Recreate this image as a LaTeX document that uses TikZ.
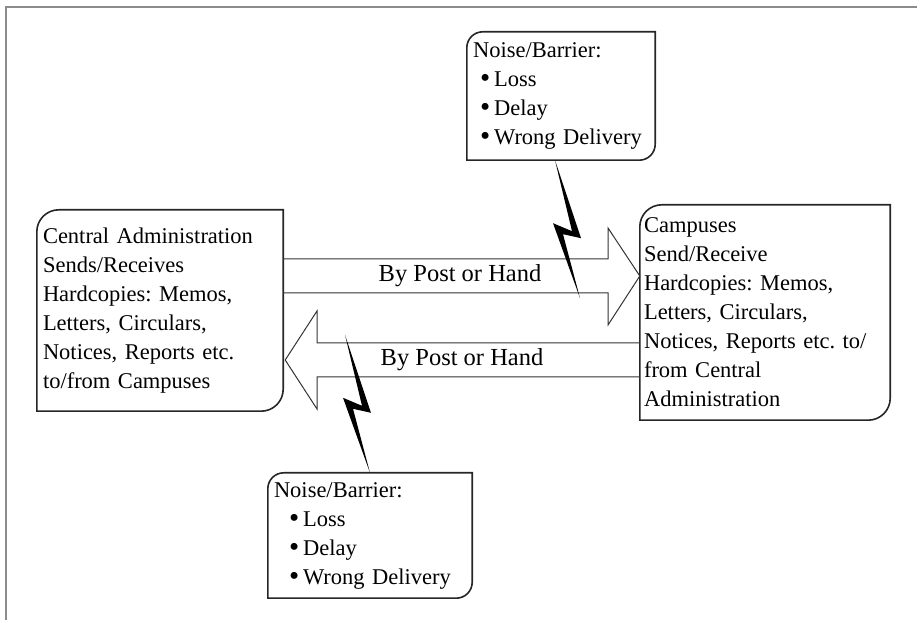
\documentclass[tikz,border=0pt]{standalone}
\usepackage{fontspec}
\setmainfont{Liberation Serif}
\usetikzlibrary{calc}

% box with rounded top-left and bottom-right corners
\newcommand{\diagframe}[2]{%
  \draw[frame line] ([xshift=#2]#1.north west) -- (#1.north east) -- ([yshift=#2]#1.south east)
    arc[start angle=0, end angle=-90, radius=#2] -- (#1.south west) -- ([yshift=-#2]#1.north west)
    arc[start angle=180, end angle=90, radius=#2] -- cycle;}

\newcommand{\bigdot}{\raisebox{-1pt}{\fontsize{29}{29}\selectfont\textbullet}}
\newcommand{\noiselist}[1]{Noise/Barrier:\\
  \hspace*{#1}\bigdot\hspace{4pt}Loss\\
  \hspace*{#1}\bigdot\hspace{4pt}Delay\\
  \hspace*{#1}\bigdot\hspace{4pt}Wrong Delivery}

\begin{document}
\frenchspacing
\begin{tikzpicture}[x=1pt, y=1pt,
    every node/.style={font=\fontsize{22.5}{29}\selectfont, inner xsep=6pt, inner ysep=0pt, align=left},
    label text/.style={font=\fontsize{24.5}{29}\selectfont},
    frame line/.style={line width=1.6pt, black!85},
    pipe/.style={line width=1pt, black!80},
    bolt/.style={fill=black},
    border/.style={line width=2pt, black!45}]

   \useasboundingbox (0,0) rectangle (917,620);
   \draw[border] (5,613) -- (917,613);
   \draw[border] (6,613) -- (6,0);

   \node[text width=234pt, minimum height=201pt] (admin) at (160,309.5)
     {Central Administration\\Sends/Receives\\Hardcopies: Memos,\\Letters, Circulars,\\Notices, Reports etc.\\to/from Campuses};
   \node[text width=242pt, inner xsep=4pt, minimum height=215pt] (campus) at (765,307.5)
     {Campuses\\Send/Receive\\Hardcopies: Memos,\\Letters, Circulars,\\Notices, Reports etc. to/\\from Central\\Administration};
   \node[text width=176pt, minimum height=128pt] (noise1) at (561,524) {\noiselist{7pt}};
   \node[text width=192pt, minimum height=125pt] (noise2) at (370,84.5) {\noiselist{15pt}};

   \foreach \b/\r in {admin/22pt, campus/22pt, noise1/16pt, noise2/16pt}
     \diagframe{\b}{\r};

   % the two hand-delivery arrows
   \draw[pipe] (admin.east |- 0,361) -- (608,361) -- (608,392) -- (campus.west |- 0,344)
     -- (608,295) -- (608,327) -- (admin.east |- 0,327);
   \draw[pipe] (campus.west |- 0,277) -- (317,277) -- (317,309) -- ([xshift=2pt]admin.east |- 0,260)
     -- (317,211) -- (317,243) -- (campus.west |- 0,243);
   \node[label text] (post1) at (460,344) {By Post or Hand};
   \node[label text] (post2) at (462,260) {By Post or Hand};

   % noise bolts
   \coordinate (zap1) at ([xshift=-6pt]noise1.south);
   \coordinate (zap2) at ([xshift=-25pt,yshift=138pt]noise2.north);
   \foreach \z in {zap1, zap2}
     \fill[bolt, shift={(\z)}] (0,0) -- (26,-78) -- (8,-74) -- (25,-138) -- (-2,-63) -- (17,-71) -- cycle;

\end{tikzpicture}
\end{document}
